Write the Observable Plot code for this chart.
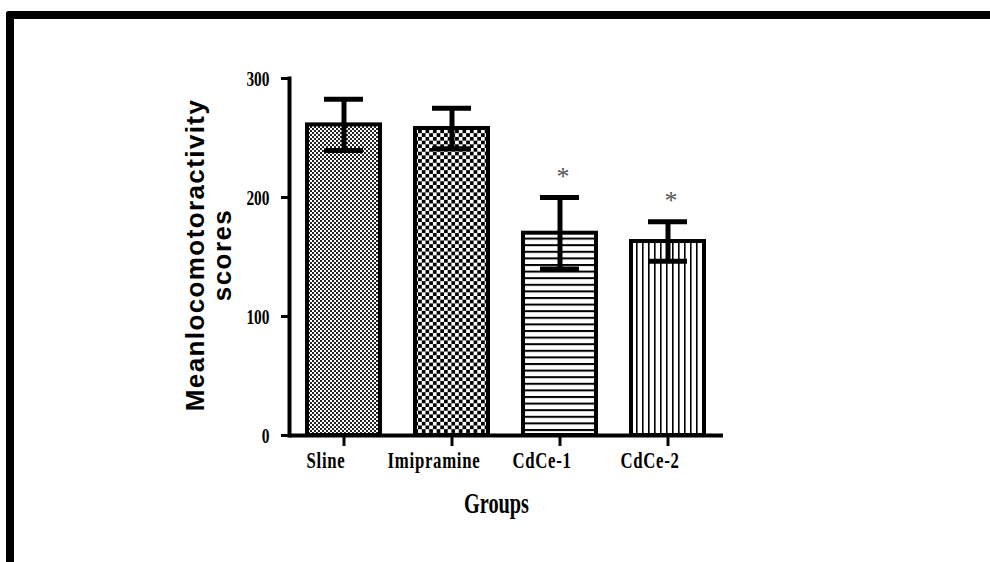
<!DOCTYPE html>
<html>
<head>
<meta charset="utf-8">
<script src="https://cdn.jsdelivr.net/npm/d3@7"></script>
<script src="https://cdn.jsdelivr.net/npm/@observablehq/plot@0.6"></script>
<style>
  html, body { margin: 0; padding: 0; background: #fff; overflow: hidden; width: 990px; height: 562px; }
  #chart { position: absolute; left: 0; top: 0; }
  #frame { position: absolute; left: 6px; top: 11px; width: 976px; height: 543px;
           border-left: 8px solid #000; border-top: 8px solid #000; border-top-left-radius: 3px;
           pointer-events: none; }
  g[aria-label="x-axis tick label"] text { letter-spacing: 1px; }
</style>
</head>
<body>
<div id="chart"></div>
<div id="frame"></div>
<script>
// ---- data ----
const groups = ["Sline", "Imipramine", "CdCe-1", "CdCe-2"];
const means  = [261, 258, 170, 163];
const sems   = [21.5, 17, 30, 16.6];
const significance = ["", "", "*", "*"];
const yTicks = [0, 100, 200, 300];
const yLabel = "Meanlocomotoractivity\nscores";
const xLabel = "Groups";

// ---- styles (pattern fill per group) ----
const patternFill = {
  "Sline": "url(#pat-fine)",
  "Imipramine": "url(#pat-check)",
  "CdCe-1": "url(#pat-hlines)",
  "CdCe-2": "url(#pat-vlines)"
};

const data = groups.map((g, i) => ({group: g, mean: means[i], sem: sems[i], sig: significance[i]}));

const chart = Plot.plot({
  width: 990,
  height: 562,
  marginLeft: 289,
  marginRight: 267,
  marginTop: 78,
  marginBottom: 127,
  style: {background: "transparent", color: "#000", fontFamily: "'Liberation Serif', 'Times New Roman', serif"},
  x: {domain: groups, paddingInner: 0.32, paddingOuter: 0.16, label: null, axis: null},
  y: {domain: [0, 300], label: null, axis: null},
  color: {type: "identity"},
  marks: [
    Plot.barY(data, {x: "group", y: "mean", fill: d => patternFill[d.group], stroke: "#000", strokeWidth: 4}),
    Plot.ruleX(data, {x: "group", y1: d => d.mean - d.sem, y2: d => d.mean + d.sem, stroke: "#000", strokeWidth: 5}),
    Plot.tickY(data, {x: "group", y: d => d.mean + d.sem, stroke: "#000", strokeWidth: 5, insetLeft: 17, insetRight: 17}),
    Plot.tickY(data, {x: "group", y: d => d.mean - d.sem, stroke: "#000", strokeWidth: 5, insetLeft: 17, insetRight: 17}),
    Plot.text(data, {x: "group", y: d => d.mean + d.sem, text: "sig", dx: 3, dy: -21, fontSize: 26, fill: "#555", lineAnchor: "middle"}),
    Plot.axisY({ticks: yTicks, tickSize: 8, tickPadding: 12, fontSize: 22, fontWeight: "bold", strokeWidth: 3, label: null}),
    Plot.axisX({tickSize: 11, tickPadding: 4, fontSize: 24, fontWeight: "bold", strokeWidth: 3, label: null}),
    Plot.frame({anchor: "left", strokeWidth: 4}),
    Plot.ruleY([0], {strokeWidth: 4}),
    Plot.text([xLabel], {frameAnchor: "bottom", dy: 68, dx: -10, fontSize: 29, fontWeight: "bold", lineAnchor: "middle"}),
    Plot.text([yLabel], {frameAnchor: "left", dx: -81, dy: -2, rotate: -90, fontSize: 26, fontWeight: "bold", lineHeight: 1.04,
      lineAnchor: "middle", textAnchor: "middle", fontFamily: "'Liberation Sans', Arial, sans-serif"})
  ]
});

// pattern definitions
const defs = document.createElementNS("http://www.w3.org/2000/svg", "defs");
defs.innerHTML = `
  <pattern id="pat-fine" patternUnits="userSpaceOnUse" width="4" height="4">
    <rect width="4" height="4" fill="#fff"/>
    <rect x="0" y="0" width="2" height="2" fill="#222"/>
    <rect x="2" y="2" width="2" height="2" fill="#222"/>
  </pattern>
  <pattern id="pat-check" patternUnits="userSpaceOnUse" width="7.4" height="7.4">
    <rect width="7.4" height="7.4" fill="#fff"/>
    <rect x="0" y="0" width="3.7" height="3.7" fill="#000"/>
    <rect x="3.7" y="3.7" width="3.7" height="3.7" fill="#000"/>
  </pattern>
  <pattern id="pat-hlines" patternUnits="userSpaceOnUse" width="8" height="6.6">
    <rect width="8" height="6.6" fill="#fff"/>
    <rect x="0" y="0" width="8" height="2" fill="#000"/>
  </pattern>
  <pattern id="pat-vlines" patternUnits="userSpaceOnUse" width="6" height="8">
    <rect width="6" height="8" fill="#fff"/>
    <rect x="0" y="0" width="1.6" height="8" fill="#000"/>
  </pattern>`;
chart.insertBefore(defs, chart.firstChild);

// condensed serif look for axis labels
const condense = el => {
  const t = el.getAttribute("transform");
  if (t) el.setAttribute("transform", t + " scale(0.7,1)");
  else {
    const x = el.getAttribute("x") || 0, y = el.getAttribute("y") || 0;
    el.removeAttribute("x"); el.removeAttribute("y");
    el.setAttribute("transform", `translate(${x},${y}) scale(0.7,1)`);
  }
};
chart.querySelectorAll('g[aria-label="x-axis tick label"] text, g[aria-label="y-axis tick label"] text').forEach(condense);
chart.querySelectorAll("text").forEach(el => { if (el.textContent === xLabel) condense(el); });
// the reference's category labels sit a little left of their ticks
chart.querySelectorAll('g[aria-label="x-axis tick label"]').forEach(g => {
  g.setAttribute("transform", (g.getAttribute("transform") || "") + " translate(-18,0)");
});
// slightly tracked y label as in the reference
chart.querySelectorAll("text").forEach(el => {
  if (el.textContent.startsWith("Meanlocomotor")) el.style.letterSpacing = "1.4px";
});

document.getElementById("chart").appendChild(chart);
</script>
</body>
</html>
